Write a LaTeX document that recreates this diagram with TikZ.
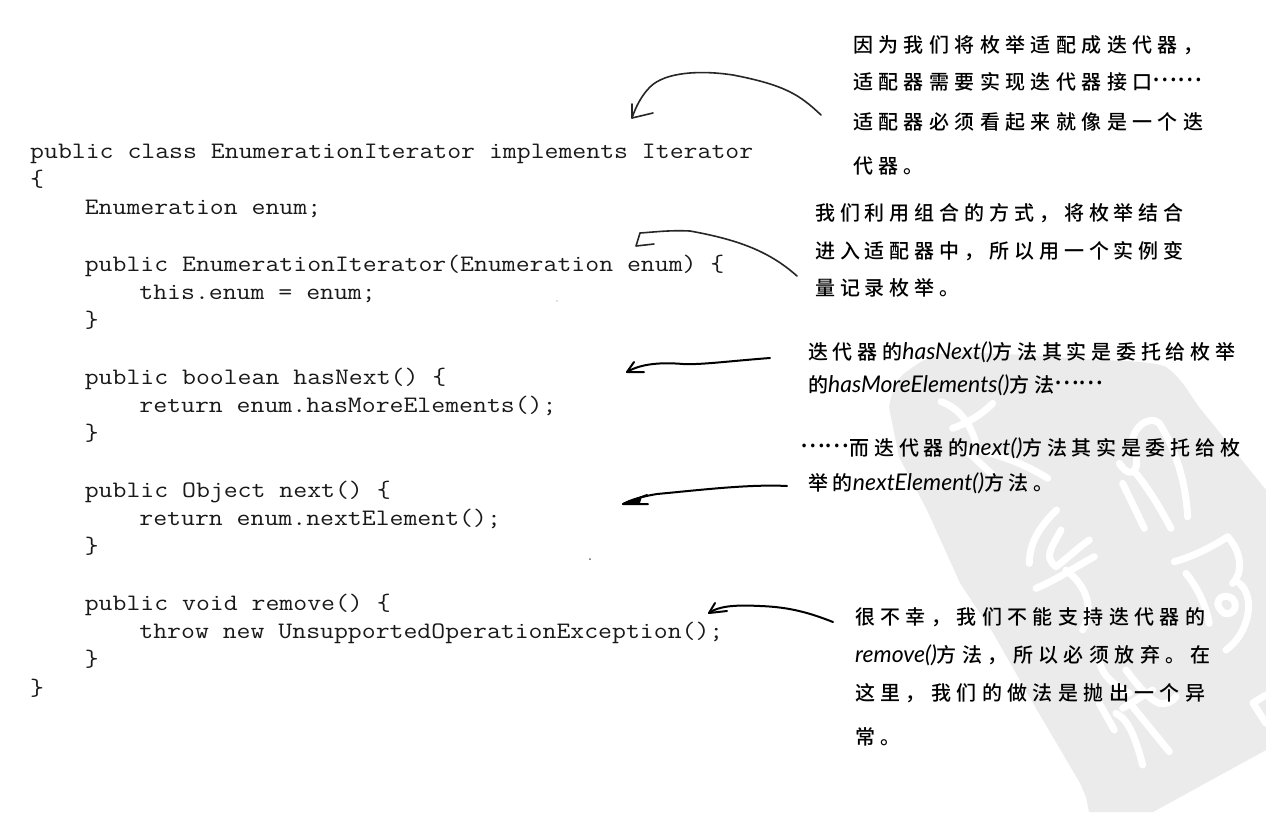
\documentclass[tikz,border=0pt]{standalone}
\usepackage{fontspec}
\newfontfamily\cjkplain{Noto Sans CJK SC Medium}
\newfontfamily\cjkA[LetterSpace=27]{Noto Sans CJK SC Medium}
\newfontfamily\cjkB[LetterSpace=24.5]{Noto Sans CJK SC Medium}
\newfontfamily\cjkC[LetterSpace=23.5]{Noto Sans CJK SC Medium}
\newfontfamily\latinhand{Lato Italic}
\setmonofont[FakeStretch=1.144]{Latin Modern Mono}
\newcommand{\lh}[1]{{\latinhand\fontsize{23}{23}\selectfont #1}}
\newcommand{\dd}{\raisebox{8pt}{\cjkplain\fontsize{23}{23}\selectfont ……}}
\tikzset{
  x=1pt,y=-1pt,
  code/.style={anchor=base west,inner sep=0pt,text=black!90,font=\ttfamily\fontsize{23.6}{28}\selectfont},
  note/.style={anchor=base west,inner sep=0pt,text=black,yshift=-7pt},
  noteA/.style={note,font=\cjkA\fontsize{20}{24}\selectfont},
  noteB/.style={note,font=\cjkB\fontsize{20}{24}\selectfont},
  noteC/.style={note,font=\cjkC\fontsize{20}{24}\selectfont},
  pen/.style={line width=1.6pt,black!85,line cap=round,line join=round},
  penb/.style={line width=2pt,black,line cap=round,line join=round},
  wm/.style={line width=7pt,white,line cap=round,line join=round},
}
\begin{document}
\begin{tikzpicture}
\useasboundingbox (0,0) rectangle (1266,812);
\fill[white] (0,0) rectangle (1266,812);
% watermark
\fill[black!8] (889,407) .. controls (893,385) and (900,375) .. (909,370)
  .. controls (925,358) and (935,354) .. (949,353)
  .. controls (1000,352) and (1060,358) .. (1099,360)
  .. controls (1130,361) and (1155,362) .. (1166,367)
  .. controls (1182,378) and (1190,395) .. (1199,407)
  -- (1266,490) -- (1266,750) -- (1153,812) -- (1089,812)
  -- (1086,797) -- (1080,783) -- (1037,710) -- (993,633) -- (960,583) -- (927,510) -- (899,457) -- cycle;
\begin{scope}[shift={(866,340)},x=0.3333pt,y=-0.3333pt]
  \draw[wm] (225,185) .. controls (270,200) and (310,240) .. (330,310);
  \draw[wm] (380,190) .. controls (340,230) and (300,250) .. (260,265);
  \draw[wm] (300,330) -- (380,405);
  \draw[wm] (350,335) .. controls (420,350) and (490,380) .. (545,415);
  \draw[wm] (760,370) .. controls (800,430) and (830,380) .. (800,320) .. controls (790,270) and (850,220) .. (880,250);
  \draw[wm] (880,250) .. controls (930,330) and (960,430) .. (965,530);
  \draw[wm] (810,400) .. controls (850,450) and (880,500) .. (915,565);
  \draw[wm] (770,430) -- (835,565);
  \draw[wm] (572,510) .. controls (520,560) and (490,610) .. (490,670);
  \draw[wm] (585,570) .. controls (560,620) and (530,650) .. (570,680) .. controls (610,650) and (640,620) .. (670,600);
  \draw[wm] (510,745) .. controls (570,720) and (630,680) .. (685,650);
  \draw[wm] (600,690) .. controls (650,730) and (690,790) .. (650,870);
  \draw[wm] (925,665) .. controls (980,650) and (1040,620) .. (1085,590) .. controls (1130,640) and (1130,700) .. (1100,730);
  \draw[wm] (960,700) .. controls (1000,750) and (1020,800) .. (1030,850);
  \draw[wm] (1120,730) .. controls (1170,770) and (1150,880) .. (1080,930);
  \draw[wm] (1070,770) .. controls (1120,760) and (1120,830) .. (1075,820) .. controls (1050,800) and (1050,780) .. (1070,770);
  \draw[wm] (700,965) .. controls (710,1010) and (750,1040) .. (790,1060);
  \draw[wm] (780,990) .. controls (810,1030) and (850,1080) .. (880,1090) .. controls (900,1095) and (920,1085) .. (930,1070);
  \draw[wm] (700,1090) -- (745,1170);
  \draw[wm] (800,1100) -- (910,1235);
  \draw[wm] (750,1120) .. controls (790,1140) and (810,1200) .. (830,1275);
  \draw[wm] (770,1105) -- (860,1050);
  \draw[wm] (1200,1065) -- (1161,1089) -- (1200,1150);
\end{scope}
% code
\node[code] (c0) at (30,158.0) {public class EnumerationIterator implements Iterator};
\node[code] (c1) at (30,186.3) {\{};
\node[code] (c2) at (84.6,214.5) {Enumeration enum;};
\node[code] (c4) at (84.6,271.0) {public EnumerationIterator(Enumeration enum) \{};
\node[code] (c5) at (139.2,299.3) {this.enum = enum;};
\node[code] (c6) at (84.6,327.6) {\}};
\node[code] (c8) at (84.6,384.1) {public boolean hasNext() \{};
\node[code] (c9) at (139.2,412.3) {return enum.hasMoreElements();};
\node[code] (c10) at (84.6,440.6) {\}};
\node[code] (c12) at (84.6,497.1) {public Object next() \{};
\node[code] (c13) at (139.2,525.4) {return enum.nextElement();};
\node[code] (c14) at (84.6,553.6) {\}};
\node[code] (c16) at (84.6,610.2) {public void remove() \{};
\node[code] (c17) at (139.2,638.4) {throw new UnsupportedOperationException();};
\node[code] (c18) at (84.6,666.7) {\}};
\node[code] (c19) at (30,695.0) {\}};
% notes
\node[noteA] (n1a) at (853,45) {因为我们将枚举适配成迭代器，};
\node[noteA] (n1b) at (853,82) {适配器需要实现迭代器接口\dd};
\node[noteA] (n1c) at (853,122) {适配器必须看起来就像是一个迭};
\node[noteA] (n1d) at (853,166) {代器。};
\node[noteB] (n2a) at (815,213) {我们利用组合的方式，将枚举结合};
\node[noteB] (n2b) at (815,251) {进入适配器中，所以用一个实例变};
\node[noteB] (n2c) at (815,288) {量记录枚举。};
\node[noteC] (n3a) at (808,352) {迭代器的\lh{hasNext()}方法其实是委托给枚举};
\node[noteC] (n3b) at (808,385) {的\lh{hasMoreElements()}方法\dd};
\node[noteC] (n4a) at (800,448) {\dd 而迭代器的\lh{next()}方法其实是委托给枚};
\node[noteC] (n4b) at (808,483) {举的\lh{nextElement()}方法。};
\node[noteA] (n5a) at (855,617) {很不幸，我们不能支持迭代器的};
\node[noteA] (n5b) at (855,655) {\lh{remove()}方法，所以必须放弃。在};
\node[noteA] (n5c) at (855,693) {这里，我们的做法是抛出一个异};
\node[noteA] (n5d) at (855,737) {常。};
% connectors
\coordinate (a1s) at (821,115); \coordinate (a1t) at (632,118);
\draw[pen] (a1s) .. controls (800,95) and (785,85) .. (733,75) .. controls (700,70) and (665,72) .. (650,87) .. controls (642,95) and (636,106) .. (a1t);
\draw[pen] (632,104) -- (a1t) -- (653,113);
\coordinate (a2s) at (797,276); \coordinate (a2t) at (640,233);
\draw[pen] (a2s) .. controls (770,252) and (740,240) .. (690,231) .. controls (670,230) and (655,232) .. (a2t);
\draw[pen] (a2t) -- (636,246) -- (654,244);
\coordinate (a3s) at (770,358); \coordinate (a3t) at (627,372);
\draw[penb] (a3s) .. controls (730,361) and (700,365) .. (683,364) .. controls (660,362) and (640,364) .. (a3t);
\draw[penb] (634,362) -- (a3t) -- (644,372);
\coordinate (a4s) at (787,486); \coordinate (a4t) at (623,504);
\draw[penb] (a4s) .. controls (750,484) and (700,490) .. (657,494) .. controls (645,496) and (632,499) .. (a4t);
\draw[penb] (647,495) -- (a4t) -- (648,504);
\fill[black] (a4t) -- (642,496) -- (640,503) -- cycle;
\coordinate (a5s) at (833,622); \coordinate (a5t) at (709,613);
\draw[penb] (a5s) .. controls (810,613) and (790,607) .. (760,606) .. controls (740,605) and (720,605) .. (a5t);
\draw[penb] (715,603) -- (a5t) -- (727,611);
% specks
\fill[black!50] (557,301) circle (0.6);
\fill[black!60] (590,559) circle (1);
\end{tikzpicture}
\end{document}
